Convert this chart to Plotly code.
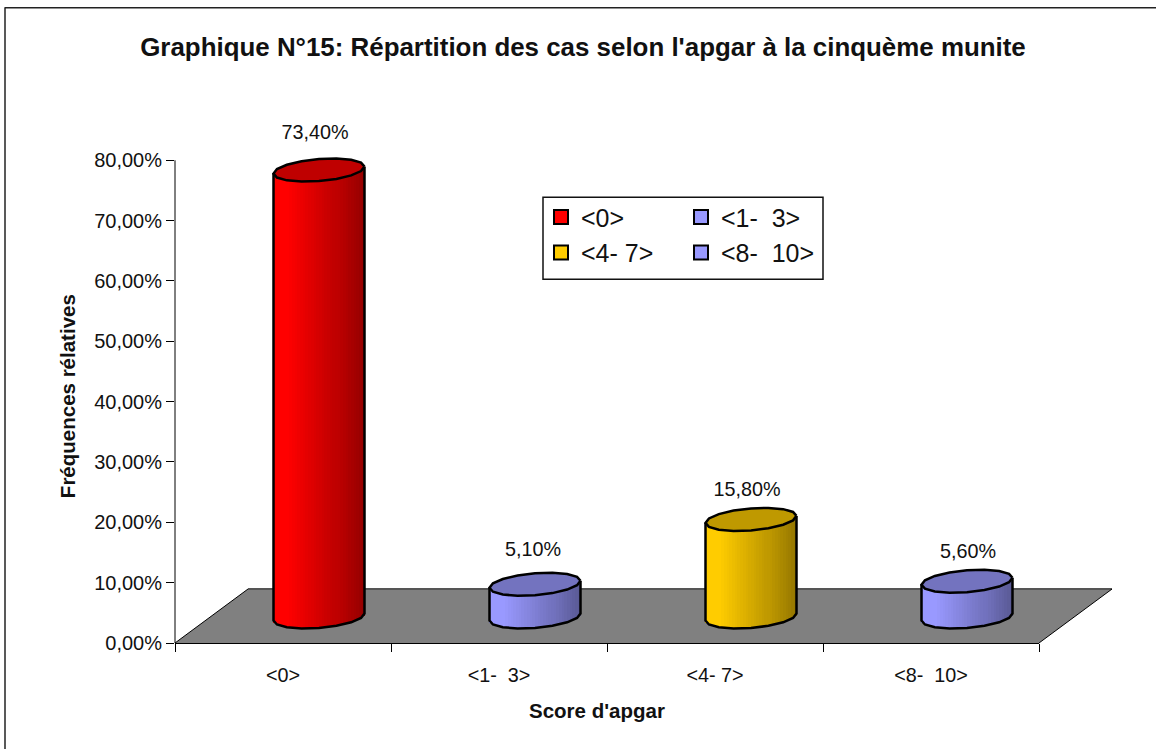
import numpy as np
import plotly.graph_objects as go

# ---- data ----
categories = ["<0>", "<1-\u00a0\u00a03>", "<4-\u00a07>", "<8-\u00a0\u00a010>"]
frequencies = [73.4, 5.1, 15.8, 5.6]
value_labels = ["73,40%", "5,10%", "15,80%", "5,60%"]
base_colors = [(255, 0, 0), (153, 153, 255), (255, 204, 0), (153, 153, 255)]
y_ticks = [0, 10, 20, 30, 40, 50, 60, 70, 80]
y_tick_labels = ["0,00%", "10,00%", "20,00%", "30,00%", "40,00%", "50,00%", "60,00%", "70,00%", "80,00%"]

# ---- page geometry (pixels) ----
W, H = 1156, 749
X0, X1, Y0 = 175, 1039, 643            # plot area
PX_X = (X1 - X0) / 4                   # pixels per category
PX_Y = (643 - 160) / 80                # pixels per percent
Y_MAX = 88                             # headroom for the tallest cylinder and its label
Y1 = Y0 - Y_MAX * PX_Y
RX, RY, SHEAR = 45.5, 11.0, 3.5        # cylinder section, pixels
X_SHIFT = 36 / PX_X                    # depth shift of the bars in category units
BASE = (Y0 - 617) / PX_Y               # depth shift of the bars in % units
N_STRIPS = 34
LABEL_LIFT_PX = [36, 33, 28, 28]       # label centre above the top face
LABEL_DX_PX = [-4, -2, -4, 1]


def fx(p):
    # page pixel -> plot-area "paper" fraction
    return (p - X0) / (X1 - X0)


def fy(p):
    return (Y0 - p) / (Y0 - Y1)


def rgb(c, f):
    return "rgb(%d,%d,%d)" % tuple(int(round(v * f)) for v in c)


def shade(u):
    # u: 0 left edge -> 1 right edge of the cylinder
    return float(np.interp(u, [0, 0.16, 0.65, 0.72, 1], [1.0, 1.0, 0.76, 0.74, 0.58]))


def height(v):
    return v * 1.005 + 0.3


fig = go.Figure()

for i, (cat, val, col) in enumerate(zip(categories, frequencies, base_colors)):
    cx = i + X_SHIFT
    h = height(val)
    top = BASE + h
    edges = np.linspace(-1, 1, N_STRIPS + 1)
    mids = (edges[:-1] + edges[1:]) / 2
    lower_px = RY * np.sqrt(1 - mids ** 2) - SHEAR * mids
    fig.add_trace(go.Bar(
        x=cx + mids * RX / PX_X,
        y=[h] * N_STRIPS,
        base=BASE - lower_px / PX_Y,
        width=(2 * RX / N_STRIPS + 0.25) / PX_X,
        marker=dict(color=[rgb(col, shade((m + 1) / 2)) for m in mids], line_width=0),
        showlegend=False, hoverinfo="skip",
    ))
    # front outline of the body
    t = np.linspace(0, np.pi, 9)
    u = np.cos(t)
    low = RY * np.sin(t) - SHEAR * u
    ox = np.concatenate([[1], u, [-1]])
    oy = np.concatenate([[top + SHEAR / PX_Y], BASE - low / PX_Y, [top - SHEAR / PX_Y]])
    fig.add_trace(go.Scatter(
        x=cx + ox * RX / PX_X, y=oy, mode="lines",
        line=dict(color="black", width=2.5), showlegend=False, hoverinfo="skip",
    ))
    # top face
    t = np.linspace(0, 2 * np.pi, 17)
    u = np.cos(t)
    face = RY * np.sin(t) - SHEAR * u
    fig.add_trace(go.Scatter(
        x=cx + u * RX / PX_X, y=top - face / PX_Y, mode="lines", fill="toself",
        fillcolor=rgb(col, 0.75), line=dict(color="black", width=2.5),
        showlegend=False, hoverinfo="skip",
    ))

# value labels
fig.add_trace(go.Scatter(
    x=[i + X_SHIFT + LABEL_DX_PX[i] / PX_X for i in range(4)],
    y=[BASE + height(v) + LABEL_LIFT_PX[i] / PX_Y for i, v in enumerate(frequencies)],
    mode="text", text=value_labels, textposition="middle center",
    textfont=dict(family="Liberation Sans", size=19.8, color="#111"),
    showlegend=False, hoverinfo="skip",
))

# legend entries: two columns
for idx in [0, 2, 1, 3]:
    fig.add_trace(go.Scatter(
        x=[None], y=[None], name=categories[idx], mode="markers",
        marker=dict(symbol="square", size=14, color=rgb(base_colors[idx], 1), line=dict(color="black", width=2)),
        legend="legend" if idx in (0, 2) else "legend2",
        showlegend=True, hoverinfo="skip",
    ))

legend_font = dict(family="Liberation Sans", size=25, color="#111")
common_legend = dict(font=legend_font, bgcolor="rgba(0,0,0,0)", borderwidth=0,
                     xanchor="left", yanchor="top", itemwidth=30, tracegroupgap=0, itemsizing="trace")

black = dict(color="black", width=1)
shapes = [
    # outer frame: left and top only are in the picture
    dict(type="line", xref="paper", yref="paper", x0=fx(5), x1=fx(5), y0=fy(7), y1=fy(749),
         line=dict(color="#222", width=1.5)),
    dict(type="line", xref="paper", yref="paper", x0=fx(5), x1=fx(1156), y0=fy(7.5), y1=fy(7.5),
         line=dict(color="#222", width=1.5)),
    # floor
    dict(type="path", xref="paper", yref="paper", layer="below",
         path="M %f,%f L %f,%f L %f,%f L %f,%f Z" % (
             fx(175), fy(643), fx(248), fy(589), fx(1112), fy(589), fx(1039), fy(643)),
         fillcolor="#808080", line_width=0),
    dict(type="line", xref="paper", yref="paper", layer="below", x0=fx(248), x1=fx(1112), y0=fy(589), y1=fy(589),
         line=dict(color="#555555", width=2)),
    dict(type="line", xref="paper", yref="paper", layer="below", x0=fx(175), x1=fx(248), y0=fy(643), y1=fy(589),
         line=black),
    dict(type="line", xref="paper", yref="paper", layer="below", x0=fx(1039), x1=fx(1112), y0=fy(643), y1=fy(589),
         line=black),
    # y axis line, stopping at 80 %
    dict(type="line", xref="paper", yref="paper", layer="below", x0=0, x1=0, y0=0, y1=fy(160), line=black),
    # legend box
    dict(type="rect", xref="paper", yref="paper", layer="below",
         x0=fx(543), x1=fx(823), y0=fy(197), y1=fy(279),
         fillcolor="white", line=dict(color="#111", width=1.5)),
]

annotations = [
    dict(text="<b>Score d'apgar</b>", xref="paper", yref="paper", x=fx(597), y=fy(711),
         xanchor="center", yanchor="middle", showarrow=False, font=dict(size=20.5)),
    dict(text="<b>Fréquences rélatives</b>", xref="paper", yref="paper", x=fx(67), y=fy(396),
         xanchor="center", yanchor="middle", showarrow=False, textangle=-90, font=dict(size=20.5)),
]

fig.update_layout(
    width=W, height=H,
    margin=dict(l=X0, r=W - X1, t=Y1, b=H - Y0, autoexpand=False),
    paper_bgcolor="white", plot_bgcolor="rgba(0,0,0,0)",
    font=dict(family="Liberation Sans", color="#111"),
    bargap=0, barmode="overlay",
    title=dict(text="<b>Graphique N°15: Répartition des cas selon l'apgar à la cinquème munite</b>",
               x=583 / W, xanchor="center", y=1 - 47 / H, yanchor="middle",
               font=dict(family="Liberation Sans", size=25.9, color="#111")),
    xaxis=dict(
        range=[-0.5, 3.5], tickmode="array", tickvals=list(range(4)), ticktext=categories,
        ticks="", showgrid=False, zeroline=False, showline=True, linecolor="black", linewidth=1,
        tickfont=dict(size=19.8), ticklabelstandoff=14,
        minor=dict(tickmode="array", tickvals=[-0.5, 0.5, 1.5, 2.5, 3.5], ticks="outside",
                   ticklen=8, tickcolor="black", tickwidth=1, showgrid=False),
        automargin=False,
    ),
    yaxis=dict(
        range=[0, Y_MAX], tickmode="array", tickvals=y_ticks, ticktext=y_tick_labels,
        ticks="outside", ticklen=8, tickcolor="black", tickwidth=1,
        showgrid=False, zeroline=False, showline=False,
        tickfont=dict(size=20),
        automargin=False,
    ),
    legend=dict(x=fx(541), y=fy(194), **common_legend),
    legend2=dict(x=fx(681), y=fy(194), **common_legend),
    shapes=shapes,
    annotations=annotations,
)

fig.write_html("out.html", config={"displayModeBar": False},
               post_script="document.body.style.margin='0';")
